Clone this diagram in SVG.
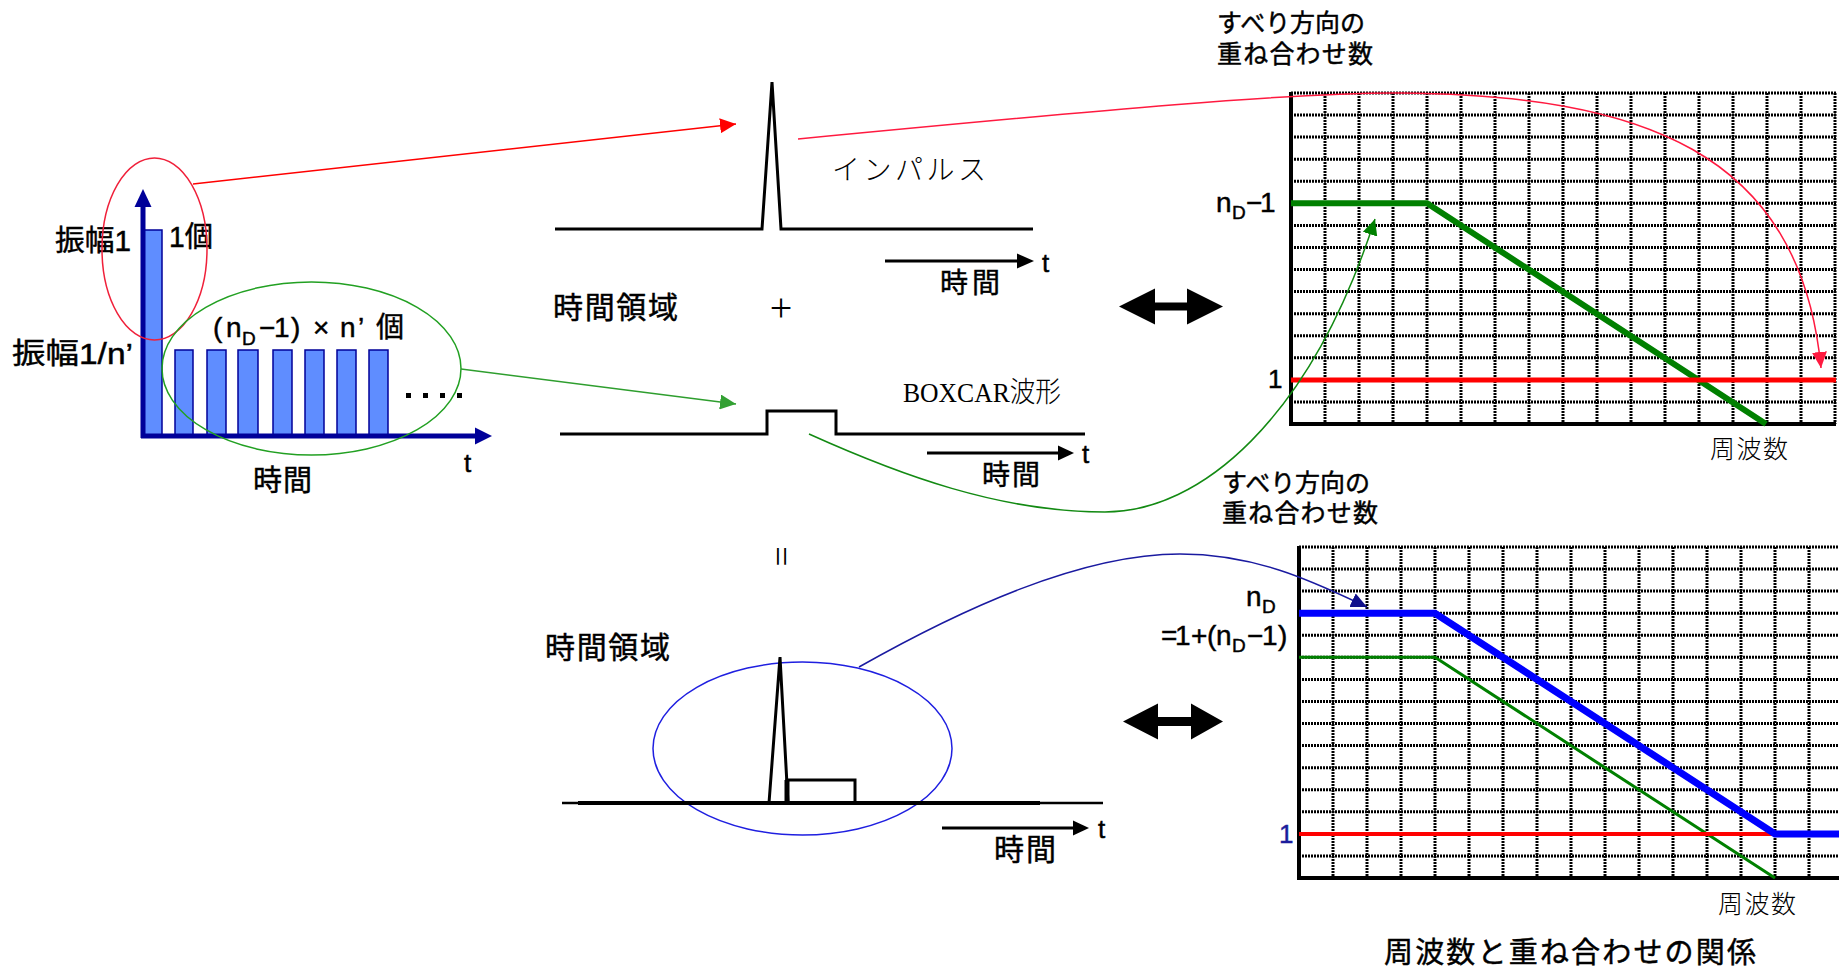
<svg xmlns="http://www.w3.org/2000/svg" width="1839" height="967" viewBox="0 0 1839 967">
  <style>
    .sans { font-family: "Liberation Sans", "Noto Sans CJK JP", sans-serif; fill: #000; stroke: #000; stroke-width: 0.45; }
    .serif { font-family: "Liberation Serif", "Noto Sans CJK JP", serif; fill: #000; }
    .wave { fill: none; stroke: #000; stroke-width: 3; stroke-linejoin: miter; }
    .grid { fill: none; stroke: #000; stroke-width: 3; stroke-dasharray: 2 1; }
    .axis { fill: none; stroke: #000; stroke-width: 4; }
    .bar { fill: #5f8dff; stroke: #000099; stroke-width: 1.5; }
    .navy { fill: #000099; }
  </style>
  <defs>
    <marker id="ah-red" viewBox="0 0 16 15" markerUnits="userSpaceOnUse" markerWidth="16" markerHeight="15" refX="16" refY="7.5" orient="auto">
      <path d="M0,0 L16,7.5 L0,15 z" fill="#ff0000"/>
    </marker>
    <marker id="ah-green" viewBox="0 0 16 15" markerUnits="userSpaceOnUse" markerWidth="16" markerHeight="15" refX="16" refY="7.5" orient="auto">
      <path d="M0,0 L16,7.5 L0,15 z" fill="#33a033"/>
    </marker>
    <marker id="ah-dkgreen" viewBox="0 0 16 15" markerUnits="userSpaceOnUse" markerWidth="16" markerHeight="15" refX="16" refY="7.5" orient="auto">
      <path d="M0,0 L16,7.5 L0,15 z" fill="#008000"/>
    </marker>
    <marker id="ah-crimson" viewBox="0 0 16 15" markerUnits="userSpaceOnUse" markerWidth="16" markerHeight="15" refX="16" refY="7.5" orient="auto">
      <path d="M0,0 L16,7.5 L0,15 z" fill="#ff1a40"/>
    </marker>
    <marker id="ah-navy" viewBox="0 0 16 15" markerUnits="userSpaceOnUse" markerWidth="16" markerHeight="15" refX="16" refY="7.5" orient="auto">
      <path d="M0,0 L16,7.5 L0,15 z" fill="#10108c"/>
    </marker>
  </defs>

  <rect width="1839" height="967" fill="#fff"/>

  <!-- pulse train: one impulse of amplitude 1 and (nD-1)n' pulses of amplitude 1/n' -->
  <g id="pulse-train">
    <rect class="bar" x="143" y="230" width="19" height="206"/>
    <rect class="bar" x="175" y="350" width="18" height="86"/>
    <rect class="bar" x="207" y="350" width="19" height="86"/>
    <rect class="bar" x="238" y="350" width="20" height="86"/>
    <rect class="bar" x="273" y="350" width="19" height="86"/>
    <rect class="bar" x="305" y="350" width="19" height="86"/>
    <rect class="bar" x="337" y="350" width="19" height="86"/>
    <rect class="bar" x="369" y="350" width="19" height="86"/>
    <line x1="143" y1="438" x2="143" y2="205" stroke="#000099" stroke-width="5"/>
    <polygon class="navy" points="134.5,207 151.5,207 143,189"/>
    <line x1="141" y1="436" x2="477" y2="436" stroke="#000099" stroke-width="5"/>
    <polygon class="navy" points="475,427.5 475,444.5 492,436"/>
    <rect x="406" y="393" width="5" height="5"/>
    <rect x="423" y="393" width="5" height="5"/>
    <rect x="440" y="393" width="5" height="5"/>
    <rect x="457" y="393" width="5" height="5"/>
    <text class="sans" x="55" y="251" font-size="29" textLength="76" lengthAdjust="spacingAndGlyphs">振幅1</text>
    <text class="sans" x="169" y="247" font-size="29" textLength="44" lengthAdjust="spacingAndGlyphs">1個</text>
    <text class="sans" x="12" y="364" font-size="29" textLength="121" lengthAdjust="spacingAndGlyphs">振幅1/n’</text>
    <text class="sans" y="337" font-size="28"><tspan x="213">(</tspan><tspan x="226">n</tspan><tspan x="242" y="345" font-size="19">D</tspan><tspan x="259" y="337">−</tspan><tspan x="274">1</tspan><tspan x="291">)</tspan><tspan x="313">×</tspan><tspan x="340">n</tspan><tspan x="358">’</tspan><tspan x="376">個</tspan></text>
    <text class="sans" x="464" y="472" font-size="26">t</text>
    <text class="sans" x="253" y="491" font-size="29" textLength="59">時間</text>
  </g>

  <g id="selectors">
    <ellipse cx="154.5" cy="249" rx="52.5" ry="91" fill="none" stroke="#f0203a" stroke-width="1.5"/>
    <ellipse cx="311.5" cy="368.5" rx="149.5" ry="86.5" fill="none" stroke="#22a022" stroke-width="1.5"/>
    <ellipse cx="802.5" cy="748.5" rx="149.5" ry="86.5" fill="none" stroke="#1f1fe0" stroke-width="1.5"/>
  </g>

  <!-- time domain: impulse -->
  <g id="impulse">
    <polyline class="wave" points="555,229 762,229 772,82 781,229 1033,229"/>
    <text class="serif" x="832" y="180" font-size="28" font-weight="300" textLength="154">インパルス</text>
    <line x1="885" y1="261" x2="1019" y2="261" stroke="#000" stroke-width="3"/>
    <polygon points="1017,253.5 1034,261 1017,268.5"/>
    <text class="sans" x="1042" y="272" font-size="26">t</text>
    <text class="sans" x="940" y="293" font-size="28" textLength="60">時間</text>
  </g>

  <g id="time-domain-label">
    <text class="sans" x="553" y="318" font-size="30" textLength="125">時間領域</text>
    <text class="serif" x="781" y="321" font-size="40" text-anchor="middle">+</text>
  </g>

  <!-- time domain: boxcar -->
  <g id="boxcar">
    <polyline class="wave" points="560,434 767,434 767,411 836,411 836,434 1085,434"/>
    <text class="serif" x="903" y="402" font-size="28" font-weight="300" textLength="158" lengthAdjust="spacingAndGlyphs">BOXCAR波形</text>
    <line x1="927" y1="453" x2="1060" y2="453" stroke="#000" stroke-width="3"/>
    <polygon points="1058,445.5 1074,453 1058,460.5"/>
    <text class="sans" x="1082" y="463" font-size="26">t</text>
    <text class="sans" x="982" y="485" font-size="28" textLength="58">時間</text>
  </g>

  <g id="equals">
    <text class="serif" font-size="36" text-anchor="middle" dy="0.25em" transform="translate(778,556.5) rotate(90)">=</text>
  </g>

  <!-- time domain: impulse + boxcar -->
  <g id="combined">
    <line x1="562" y1="803" x2="1103" y2="803" stroke="#000" stroke-width="2.5"/>
    <line x1="578" y1="803" x2="1040" y2="803" stroke="#000" stroke-width="4"/>
    <polyline class="wave" points="769,803 780,657 788,803"/>
    <polyline class="wave" points="787,803 787,780 855,780 855,803"/>
    <line x1="787" y1="780" x2="787" y2="803" stroke="#000" stroke-width="5"/>
    <text class="sans" x="545" y="658" font-size="30" textLength="125">時間領域</text>
    <line x1="942" y1="828" x2="1075" y2="828" stroke="#000" stroke-width="3"/>
    <polygon points="1073,820.5 1089,828 1073,835.5"/>
    <text class="sans" x="1098" y="838" font-size="26">t</text>
    <text class="sans" x="994" y="860" font-size="30" textLength="62">時間</text>
  </g>

  <g id="transform-arrows">
    <polygon points="1119,306.5 1155,288.5 1155,302.5 1187,302.5 1187,288.5 1223,306.5 1187,324.5 1187,310.5 1155,310.5 1155,324.5"/>
    <polygon points="1123,721.5 1158,703.5 1158,717 1191,717 1191,703.5 1223,721.5 1191,739.5 1191,726 1158,726 1158,739.5"/>
  </g>

  <!-- frequency domain: impulse and boxcar -->
  <g id="chart-upper">
    <text class="sans" x="1217" y="32" font-size="25" textLength="148">すべり方向の</text>
    <text class="sans" x="1217" y="63" font-size="25" textLength="156">重ね合わせ数</text>
    <path class="grid" d="M1325,93V424M1359,93V424M1393,93V424M1427,93V424M1461,93V424M1495,93V424M1529,93V424M1563,93V424M1597,93V424M1631,93V424M1665,93V424M1699,93V424M1733,93V424M1767,93V424M1801,93V424M1835,93V424"/>
    <path class="grid" d="M1291,93H1836M1291,115.1H1836M1291,137.1H1836M1291,159.2H1836M1291,181.3H1836M1291,203.3H1836M1291,225.4H1836M1291,247.5H1836M1291,269.5H1836M1291,291.6H1836M1291,313.7H1836M1291,335.7H1836M1291,357.8H1836M1291,379.9H1836M1291,401.9H1836"/>
    <path class="axis" d="M1291,92V424H1836"/>
    <path d="M1291,203.3H1427L1766,424" fill="none" stroke="#008000" stroke-width="6"/>
    <path d="M1291,379.9H1836" fill="none" stroke="#ff0000" stroke-width="5"/>
    <text class="sans" y="212" font-size="28"><tspan x="1216">n</tspan><tspan x="1232" y="219" font-size="19">D</tspan><tspan x="1246" y="212">−</tspan><tspan x="1260">1</tspan></text>
    <text class="sans" x="1268" y="388" font-size="26">1</text>
    <text class="sans" x="1710" y="458" font-size="25" font-weight="300" textLength="78" style="stroke-width:0">周波数</text>
  </g>

  <!-- frequency domain: sum -->
  <g id="chart-lower">
    <text class="sans" x="1222" y="492" font-size="25" textLength="148">すべり方向の</text>
    <text class="sans" x="1222" y="522" font-size="25" textLength="156">重ね合わせ数</text>
    <path class="grid" d="M1333,547V878M1367,547V878M1401,547V878M1435,547V878M1469,547V878M1503,547V878M1537,547V878M1571,547V878M1605,547V878M1639,547V878M1673,547V878M1707,547V878M1741,547V878M1775,547V878M1809,547V878"/>
    <path class="grid" d="M1299,547H1839M1299,569.1H1839M1299,591.1H1839M1299,613.2H1839M1299,635.3H1839M1299,657.3H1839M1299,679.4H1839M1299,701.5H1839M1299,723.5H1839M1299,745.6H1839M1299,767.7H1839M1299,789.7H1839M1299,811.8H1839M1299,833.9H1839M1299,855.9H1839"/>
    <path class="axis" d="M1299,546V878H1839"/>
    <path d="M1299,657.3H1435L1775,878" fill="none" stroke="#008000" stroke-width="3"/>
    <path d="M1299,833.9H1775" fill="none" stroke="#ff0000" stroke-width="4"/>
    <path d="M1299,613.2H1435L1775,833.9H1839" fill="none" stroke="#0000ff" stroke-width="7"/>
    <text class="sans" y="606" font-size="28"><tspan x="1246">n</tspan><tspan x="1262" y="613" font-size="19">D</tspan></text>
    <text class="sans" y="645" font-size="28"><tspan x="1161">=</tspan><tspan x="1175">1</tspan><tspan x="1191">+</tspan><tspan x="1207">(</tspan><tspan x="1216">n</tspan><tspan x="1232" y="652" font-size="19">D</tspan><tspan x="1247" y="645">−</tspan><tspan x="1262">1</tspan><tspan x="1278">)</tspan></text>
    <text class="sans" x="1279" y="843" font-size="26" style="fill:#1c1c9c;stroke:#1c1c9c">1</text>
    <text class="sans" x="1718" y="913" font-size="25" font-weight="300" textLength="78" style="stroke-width:0">周波数</text>
  </g>

  <g id="title">
    <text class="sans" x="1384" y="963" font-size="29" textLength="372">周波数と重ね合わせの関係</text>
  </g>

  <g id="connectors">
    <line x1="193" y1="184" x2="736" y2="124" stroke="#ff0000" stroke-width="1.5" marker-end="url(#ah-red)"/>
    <line x1="461" y1="369" x2="736" y2="404" stroke="#2e9e2e" stroke-width="1.5" marker-end="url(#ah-green)"/>
    <path d="M798,139 C1100,110 1300,92 1400,93 C1640,95 1800,150 1821,368" fill="none" stroke="#ff1a40" stroke-width="1.5" marker-end="url(#ah-crimson)"/>
    <path d="M809,434 C900,475 1000,512 1105,512 C1200,512 1310,420 1375,219" fill="none" stroke="#138a13" stroke-width="1.5" marker-end="url(#ah-dkgreen)"/>
    <path d="M859,667 C960,610 1080,554 1180,554 C1260,554 1320,585 1367,607" fill="none" stroke="#1a1aa0" stroke-width="1.5" marker-end="url(#ah-navy)"/>
  </g>
</svg>
